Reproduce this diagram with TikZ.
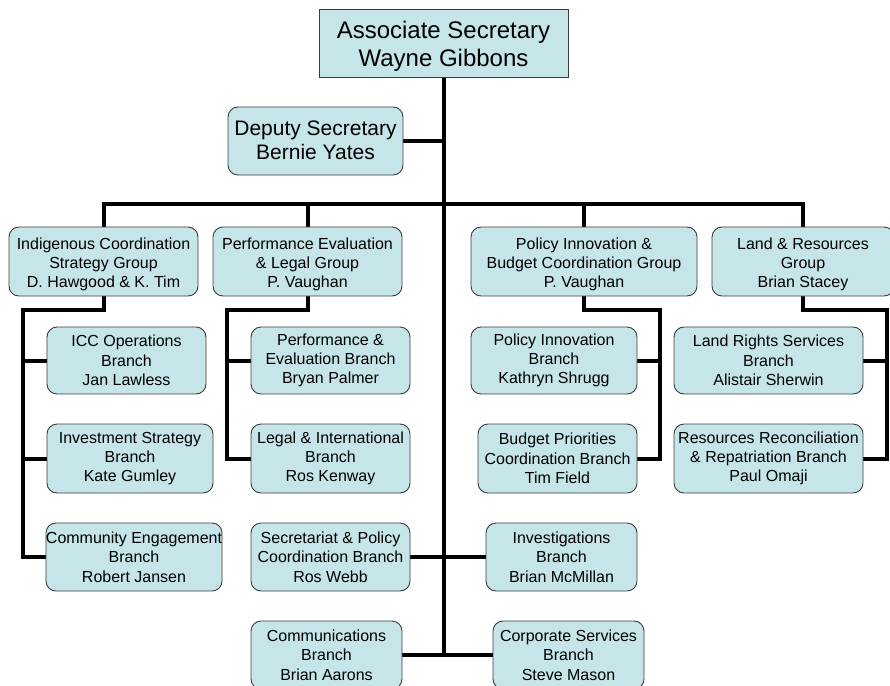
\documentclass[tikz,border=0pt]{standalone}
\usepackage{fontspec}
\setmainfont{Liberation Sans}
\usetikzlibrary{backgrounds}
\definecolor{boxfill}{RGB}{197,229,232}
\definecolor{boxline}{RGB}{60,60,60}
\newcommand{\lowtext}[2]{\raisebox{-#1}[\height][\depth]{\setlength{\tabcolsep}{0pt}\begin{tabular}{c}#2\end{tabular}}}
\begin{document}
\begin{tikzpicture}[x=1pt,y=-1pt,
  br/.style={draw=boxline, line width=0.9pt, fill=boxfill, rounded corners=10pt,
    inner sep=0pt, align=center, font=\fontsize{16}{19.3}\selectfont},
  topbox/.style={draw=boxline, line width=0.9pt, fill=boxfill,
    inner sep=0pt, align=center, font=\fontsize{24}{28.3}\selectfont},
  conn/.style={line width=4pt, line join=miter},
  sconn/.style={line width=3.6pt, line join=miter}]
\useasboundingbox (0,0) rectangle (890,685);

% coordinates for connector routing
\coordinate (bar) at (444,204);
\coordinate (bottom) at (444,655);
\coordinate (indL) at (23,310);
\coordinate (perfL) at (227,310);
\coordinate (polR) at (660,310);
\coordinate (landR) at (887,310);

% nodes
\node[topbox, minimum width=249, minimum height=68] (top) at (443.5,43) {\lowtext{4pt}{Associate Secretary\\Wayne Gibbons}};
\node[br, minimum width=175, minimum height=68, font=\fontsize{21}{24.3}\selectfont] (dep) at (315.5,141) {\lowtext{1.5pt}{Deputy Secretary\\Bernie Yates}};

\node[br, minimum width=189, minimum height=69] (ind) at (103.5,261.5) {\lowtext{3pt}{Indigenous Coordination\\Strategy Group\\D. Hawgood \& K. Tim}};
\node[br, minimum width=189, minimum height=69] (perf) at (307.5,261.5) {\lowtext{3pt}{Performance Evaluation\\\& Legal Group\\P. Vaughan}};
\node[br, minimum width=226, minimum height=69] (pol) at (584,261.5) {\lowtext{3pt}{Policy Innovation \&\\Budget Coordination Group\\P. Vaughan}};
\node[br, minimum width=182, minimum height=69] (land) at (803,261.5) {\lowtext{3pt}{Land \& Resources\\Group\\Brian Stacey}};

\node[br, minimum width=159, minimum height=67] (icc) at (126.5,360.5) {ICC Operations\\Branch\\Jan Lawless};
\node[br, minimum width=166, minimum height=69] (inv) at (130,458.5) {Investment Strategy\\Branch\\Kate Gumley};
\node[br, minimum width=174, minimum height=68] (com) at (134,557) {Community Engagement\\Branch\\Robert Jansen};

\node[br, minimum width=159, minimum height=67] (pe) at (330.5,360.5) {Performance \&\\Evaluation Branch\\Bryan Palmer};
\node[br, minimum width=159, minimum height=69] (leg) at (330.5,458.5) {Legal \& International\\Branch\\Ros Kenway};
\node[br, minimum width=159, minimum height=68] (sec) at (330.5,557) {Secretariat \& Policy\\Coordination Branch\\Ros Webb};
\node[br, minimum width=151, minimum height=68] (comm) at (326.5,655) {Communications\\Branch\\Brian Aarons};

\node[br, minimum width=166, minimum height=67] (pib) at (554,360.5) {Policy Innovation\\Branch\\Kathryn Shrugg};
\node[br, minimum width=159, minimum height=69] (bud) at (557.5,458.5) {Budget Priorities\\Coordination Branch\\Tim Field};
\node[br, minimum width=151, minimum height=68] (invg) at (561.5,557) {Investigations\\Branch\\Brian McMillan};
\node[br, minimum width=151, minimum height=68] (corp) at (568.5,655) {Corporate Services\\Branch\\Steve Mason};

\node[br, minimum width=189, minimum height=67] (lrs) at (768.5,360.5) {Land Rights Services\\Branch\\Alistair Sherwin};
\node[br, minimum width=189, minimum height=69] (res) at (768.5,458.5) {Resources Reconciliation\\\& Repatriation Branch\\Paul Omaji};

% connectors (drawn behind nodes)
\begin{scope}[on background layer]
  \draw[conn] (top.south) -- (top.south |- bottom);
  \draw[conn] (dep.east) -- (dep.east -| top.south);
  \draw[conn] (ind.north) -- (ind.north |- bar) -- (land.north |- bar) -- (land.north);
  \draw[conn] (perf.north) -- (perf.north |- bar);
  \draw[conn] (pol.north) -- (pol.north |- bar);

  \draw[conn] (ind.south) |- (indL) -- (indL |- com.west) -- (com.west);
  \draw[conn] (icc.west) -- (icc.west -| indL);
  \draw[conn] (inv.west) -- (inv.west -| indL);

  \draw[conn] (perf.south) |- (perfL) -- (perfL |- leg.west) -- (leg.west);
  \draw[conn] (pe.west) -- (pe.west -| perfL);

  \draw[conn] (pol.south) |- (polR) -- (polR |- bud.east) -- (bud.east);
  \draw[conn] (pib.east) -- (pib.east -| polR);

  \draw[conn] (land.south) |- (landR) -- (landR |- res.east) -- (res.east);
  \draw[conn] (lrs.east) -- (lrs.east -| landR);

  \draw[sconn] (sec.east) -- (invg.west);
  \draw[sconn] (comm.east) -- (corp.west);
\end{scope}
\end{tikzpicture}
\end{document}
